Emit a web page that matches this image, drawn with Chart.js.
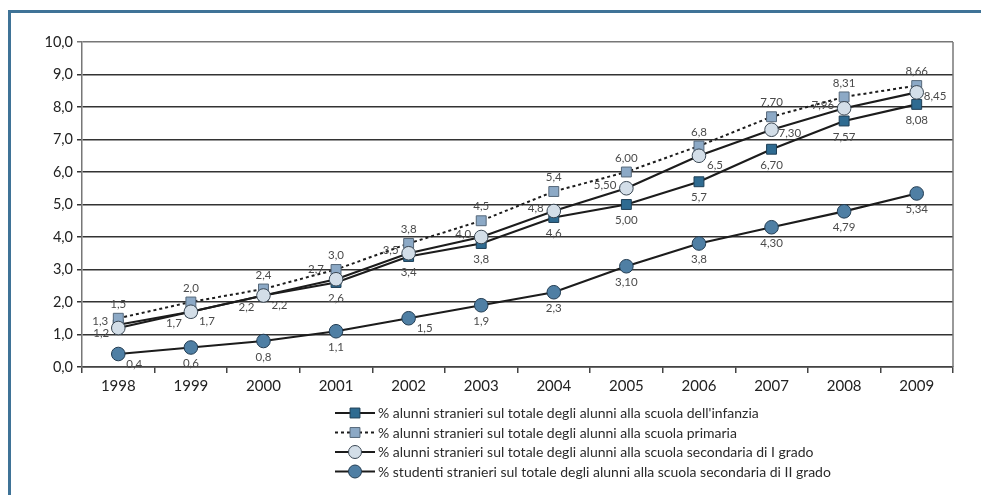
<!DOCTYPE html>
<html>
<head>
<meta charset="utf-8">
<script src="https://cdn.jsdelivr.net/npm/chart.js@4/dist/chart.umd.min.js"></script>
<style>
  html, body { margin: 0; padding: 0; background: #fff; }
  #wrap { position: relative; width: 981px; height: 495px; overflow: hidden; }
  #frame { position: absolute; left: 8px; top: 10px; right: 0; bottom: 0;
           border-left: 3px solid #3f7397; border-top: 3px solid #3f7397; }
  #c { position: absolute; left: 0; top: 0; }
</style>
</head>
<body>
<div id="wrap">
  <div id="frame"></div>
  <canvas id="c" width="981" height="495"></canvas>
</div>
<script>
// Anni scolastici
const years = ['1998', '1999', '2000', '2001', '2002', '2003', '2004', '2005', '2006', '2007', '2008', '2009'];

// Percentuali di alunni stranieri per ordine di scuola
const infanzia     = [1.3, 1.7, 2.2, 2.6, 3.4, 3.8, 4.6, 5.00, 5.7, 6.70, 7.57, 8.08];
const primaria     = [1.5, 2.0, 2.4, 3.0, 3.8, 4.5, 5.4, 6.00, 6.8, 7.70, 8.31, 8.66];
const secondariaI  = [1.2, 1.7, 2.2, 2.7, 3.5, 4.0, 4.8, 5.50, 6.5, 7.30, 7.96, 8.45];
const secondariaII = [0.4, 0.6, 0.8, 1.1, 1.5, 1.9, 2.3, 3.10, 3.8, 4.30, 4.79, 5.34];

// Cifre decimali mostrate nelle etichette, per anno
const labelDecimals = [1, 1, 1, 1, 1, 1, 1, 2, 1, 2, 2, 2];

// Scala verticale
const yMin = 0, yMax = 10, yStep = 1;

const seriesNames = [
  "% alunni stranieri sul totale degli alunni alla scuola dell'infanzia",
  "% alunni stranieri sul totale degli alunni alla scuola primaria",
  "% alunni stranieri sul totale degli alunni alla scuola secondaria di I grado",
  "% studenti stranieri sul totale degli alunni alla scuola secondaria di II grado"
];

// Posizione delle etichette rispetto al punto
const posInfanzia     = ['l', 'bl', 'bl', 'b', 'b', 'b', 'b', 'b', 'b', 'b', 'b', 'b'];
const posPrimaria     = ['a', 'a', 'a', 'a', 'a', 'a', 'a', 'a', 'a', 'a', 'a', 'a'];
const posSecondariaI  = ['lb', 'br', 'br', 'al', 'l', 'l', 'l', 'l', 'br', 'r', 'l', 'r'];
const posSecondariaII = ['br', 'b', 'b', 'b', 'br', 'b', 'b', 'b', 'b', 'b', 'b', 'b'];

const FONT = 'Lato, "Open Sans", sans-serif';
const fmt = (v, d) => v.toFixed(d).replace('.', ',');

const placements = {
  a:  { dx: 0,   dy: -14, align: 'center' },
  b:  { dx: 0,   dy: 16,  align: 'center' },
  l:  { dx: -10, dy: -3,  align: 'right' },
  lb: { dx: -9,  dy: 5,   align: 'right' },
  r:  { dx: 7,   dy: 4,   align: 'left' },
  bl: { dx: -9,  dy: 12,  align: 'right' },
  br: { dx: 8,   dy: 10,  align: 'left' },
  al: { dx: -12, dy: -10, align: 'right' }
};

const valueLabels = {
  id: 'valueLabels',
  afterDatasetsDraw(chart) {
    const ctx = chart.ctx;
    ctx.save();
    ctx.font = '11.5px ' + FONT;
    ctx.fillStyle = '#4a4a4a';
    ctx.textBaseline = 'middle';
    chart.data.datasets.forEach((ds, i) => {
      const meta = chart.getDatasetMeta(i);
      meta.data.forEach((pt, j) => {
        const p = placements[ds.labelPos[j]];
        ctx.textAlign = p.align;
        ctx.fillText(fmt(ds.data[j], labelDecimals[j]), pt.x + p.dx, pt.y + p.dy);
      });
    });
    ctx.restore();
  }
};

const plotFrame = {
  id: 'plotFrame',
  beforeDatasetsDraw(chart) {
    const { ctx, chartArea: a } = chart;
    ctx.save();
    ctx.strokeStyle = '#777';
    ctx.lineWidth = 1.5;
    ctx.beginPath();
    ctx.moveTo(a.right, a.top);
    ctx.lineTo(a.right, a.bottom);
    ctx.stroke();
    ctx.restore();
  }
};

const bottomLegend = {
  id: 'bottomLegend',
  afterDraw(chart) {
    const ctx = chart.ctx;
    const x0 = 335, x1 = 375, xm = 355, tx = 378, y0 = 413, dy = 19.5;
    ctx.save();
    chart.data.datasets.forEach((ds, i) => {
      const y = y0 + i * dy;
      ctx.strokeStyle = ds.borderColor;
      ctx.lineWidth = 2;
      ctx.setLineDash(ds.borderDash || []);
      ctx.beginPath();
      ctx.moveTo(x0, y);
      ctx.lineTo(x1, y);
      ctx.stroke();
      ctx.setLineDash([]);
      ctx.fillStyle = ds.pointBackgroundColor;
      ctx.strokeStyle = ds.pointBorderColor;
      ctx.lineWidth = 1;
      Chart.helpers.drawPoint(ctx, {
        pointStyle: ds.pointStyle,
        radius: ds.pointStyle === 'rect' ? 7 : 6.5,
        rotation: 0,
        borderWidth: 1
      }, xm, y);
      ctx.fillStyle = '#2a2a2a';
      ctx.font = '14px ' + FONT;
      ctx.textAlign = 'left';
      ctx.textBaseline = 'middle';
      ctx.fillText(ds.label, tx, y + 0.5);
    });
    ctx.restore();
  }
};

const lineBase = { borderColor: '#1c1c1c', borderWidth: 2.2, tension: 0, fill: false,
                   pointBorderWidth: 1, pointHoverRadius: 0 };

new Chart(document.getElementById('c'), {
  type: 'line',
  data: {
    labels: years,
    datasets: [
      Object.assign({}, lineBase, {
        label: seriesNames[0], data: infanzia, labelPos: posInfanzia, order: 2,
        pointStyle: 'rect', pointRadius: 7,
        pointBackgroundColor: '#2f6b91', pointBorderColor: '#1d3e55'
      }),
      Object.assign({}, lineBase, {
        label: seriesNames[1], data: primaria, labelPos: posPrimaria, order: 1,
        borderWidth: 2, borderDash: [3, 3],
        pointStyle: 'rect', pointRadius: 7,
        pointBackgroundColor: '#8ca9c6', pointBorderColor: '#56687a'
      }),
      Object.assign({}, lineBase, {
        label: seriesNames[2], data: secondariaI, labelPos: posSecondariaI, order: 0,
        pointStyle: 'circle', pointRadius: 6.8,
        pointBackgroundColor: '#d3dee8', pointBorderColor: '#3a4753'
      }),
      Object.assign({}, lineBase, {
        label: seriesNames[3], data: secondariaII, labelPos: posSecondariaII, order: 3,
        pointStyle: 'circle', pointRadius: 6.8,
        pointBackgroundColor: '#4f7fa4', pointBorderColor: '#223c52'
      })
    ]
  },
  options: {
    responsive: false,
    animation: false,
    events: [],
    layout: { padding: { left: 0, top: 42, right: 28, bottom: 0 } },
    plugins: { legend: { display: false }, tooltip: { enabled: false } },
    scales: {
      x: {
        offset: true,
        grid: { offset: true, drawOnChartArea: false, drawTicks: true, tickLength: 6,
                color: '#444', lineWidth: 1.5 },
        border: { color: '#444', width: 1.5 },
        ticks: { color: '#222', font: { family: FONT, size: 15 }, padding: 4, maxRotation: 0 },
        afterFit(s) { s.height = 128; }
      },
      y: {
        min: yMin, max: yMax,
        ticks: { stepSize: yStep, color: '#222', font: { family: FONT, size: 14.5 }, padding: 4,
                 callback: v => fmt(v, 1) },
        grid: { color: c => (c.tick && c.tick.value === yMax ? '#777' : '#333'),
                lineWidth: 1.5, tickLength: 5 },
        border: { color: '#777', width: 1.5 },
        afterFit(s) { s.width = 82; }
      }
    }
  },
  plugins: [plotFrame, valueLabels, bottomLegend]
});
</script>
</body>
</html>
